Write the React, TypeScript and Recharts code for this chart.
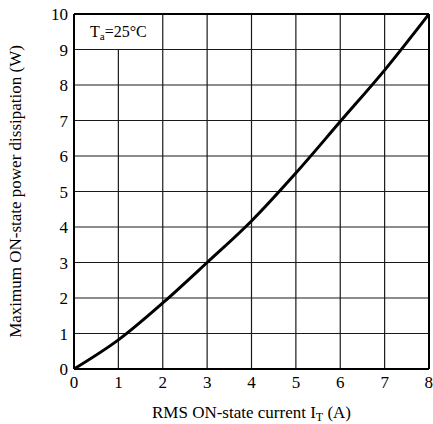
import React from "react";
import { LineChart, Line, XAxis, YAxis, ReferenceLine, ReferenceArea } from "recharts";

const current = [0, 1, 2, 3, 4, 5, 6, 7, 8];
const power = [0, 0.82, 1.86, 3.0, 4.17, 5.52, 6.97, 8.42, 10];
const xTicks = [0, 1, 2, 3, 4, 5, 6, 7, 8];
const yTicks = [0, 1, 2, 3, 4, 5, 6, 7, 8, 9, 10];
const fullVertical = [2, 3, 4, 5, 6, 7];
const horizontal = [1, 2, 3, 4, 5, 6, 7, 8, 9];

const data = current.map((c, i) => ({ current: c, power: power[i] }));

const FONT = "'Liberation Serif', Tinos, 'Times New Roman', 'DejaVu Serif', serif";
const GRID = "#1a1a1a";
const txt = { fontFamily: FONT };

export default function App() {
  return (
    <div style={{ position: "absolute", left: 0, top: 0, background: "#fff", fontFamily: FONT }}>
      <LineChart width={433} height={424} data={data} margin={{ top: 14, right: 4, bottom: 0, left: 0 }}>
        <XAxis
          dataKey="current"
          type="number"
          domain={[0, 8]}
          ticks={xTicks}
          tickLine={false}
          tickSize={0}
          tickMargin={7}
          height={55}
          axisLine={{ stroke: "#000", strokeWidth: 2 }}
          tick={{ fill: "#000", fontSize: 17, style: txt }}
          label={{
            content: ({ viewBox }: any) => (
              <text
                x={viewBox.x + viewBox.width / 2}
                y={viewBox.y + 49}
                textAnchor="middle"
                fill="#000"
                fontSize={17}
                style={txt}
              >
                RMS ON-state current I
                <tspan fontSize={12} dy={3}>T</tspan>
                <tspan dy={-3}> (A)</tspan>
              </text>
            ),
          }}
        />
        <YAxis
          type="number"
          domain={[0, 10]}
          ticks={yTicks}
          tickLine={false}
          tickSize={0}
          tickMargin={6}
          width={74}
          axisLine={{ stroke: "#000", strokeWidth: 2 }}
          tick={{ fill: "#000", fontSize: 17, style: txt }}
          label={{
            content: ({ viewBox }: any) => {
              const cx = 15;
              const cy = viewBox.y + viewBox.height / 2;
              return (
                <text
                  x={cx}
                  y={cy}
                  transform={`rotate(-90 ${cx} ${cy})`}
                  textAnchor="middle"
                  dominantBaseline="central"
                  fill="#000"
                  fontSize={17}
                  style={txt}
                >
                  Maximum ON-state power dissipation (W)
                </text>
              );
            },
          }}
        />
        {horizontal.map((v) => (
          <ReferenceLine key={`h${v}`} y={v} stroke={GRID} strokeWidth={1.2} />
        ))}
        {fullVertical.map((v) => (
          <ReferenceLine key={`v${v}`} x={v} stroke={GRID} strokeWidth={1.2} />
        ))}
        <ReferenceLine segment={[{ x: 1, y: 0 }, { x: 1, y: 9 }]} stroke={GRID} strokeWidth={1.2} />
        <ReferenceLine y={10} stroke="#000" strokeWidth={2} />
        <ReferenceLine x={8} stroke="#000" strokeWidth={2} />
        <ReferenceArea
          x1={0}
          x2={2}
          y1={9}
          y2={10}
          fillOpacity={0}
          strokeOpacity={0}
          label={{
            content: ({ viewBox }: any) => (
              <text
                x={viewBox.x + viewBox.width / 2}
                y={viewBox.y + viewBox.height / 2 + 5}
                textAnchor="middle"
                fill="#000"
                fontSize={16}
                style={txt}
              >
                T
                <tspan fontSize={11} dy={3}>a</tspan>
                <tspan dy={-3}>=25°C</tspan>
              </text>
            ),
          }}
        />
        <Line
          type="monotone"
          dataKey="power"
          stroke="#000"
          strokeWidth={3}
          dot={false}
          isAnimationActive={false}
        />
      </LineChart>
    </div>
  );
}
